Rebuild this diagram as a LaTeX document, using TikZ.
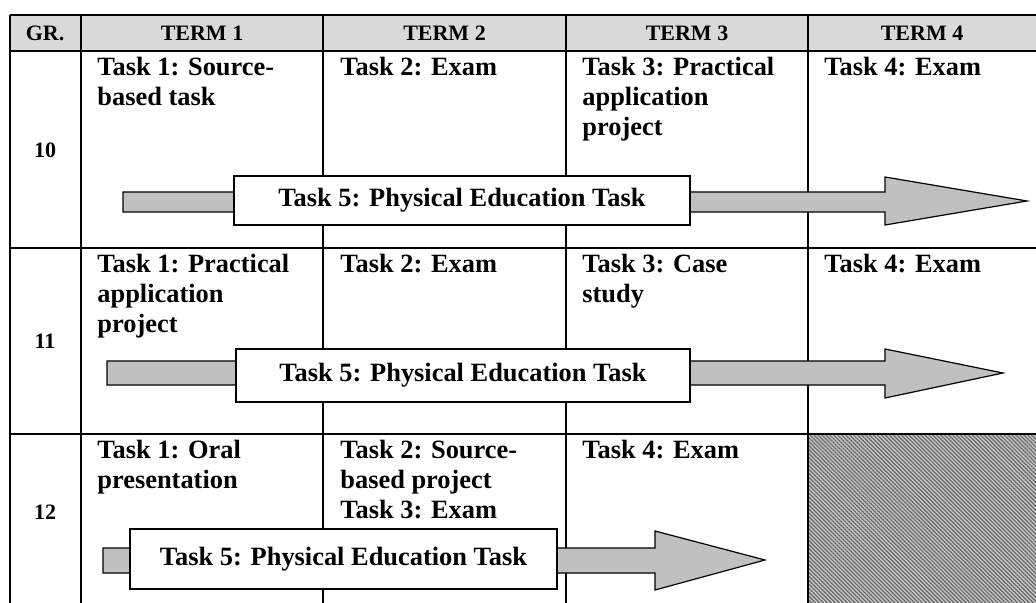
\documentclass[tikz,border=0pt]{standalone}
\usepackage{fontspec}
\setmainfont{Liberation Serif}
\usetikzlibrary{patterns.meta}
\definecolor{hdrgray}{HTML}{D9D9D9}
\definecolor{arrgray}{HTML}{C0C0C0}
\tikzset{
  grid/.style={line width=1pt, black},
  hdr/.style={font=\fontsize{11}{13}\selectfont\bfseries, inner sep=0pt, anchor=center},
  cell/.style={font=\fontsize{13.2}{15}\selectfont\bfseries, inner sep=0pt, anchor=north west, align=left},
  bigarrow/.style={draw=black, line width=0.6pt, fill=arrgray},
  taskbox/.style={draw=black, line width=0.6pt, fill=white, inner sep=0pt,
     font=\fontsize{13.2}{15}\selectfont\bfseries}
}
\begin{document}
\begin{tikzpicture}[x=0.5pt,y=-0.5pt]
\clip (0,0) rectangle (1036,603);
% header fill
\fill[hdrgray] (10,15) rectangle (1036,51);
% hatched cell
\fill[black!22] (808,434) rectangle (1036,603);
\fill[pattern={Lines[angle=-45,distance=1.4pt,line width=0.6pt]}, pattern color=black!60] (808,434) rectangle (1036,603);
% grid
\foreach \x in {10,81,323,566,808} \draw[grid] (\x,15) -- (\x,603);
\foreach \y in {15,51,248,434} \draw[grid] (10,\y) -- (1036,\y);
% header
\node[hdr] (hgr) at (45,33) {GR.};
\node[hdr] (h1) at (202,33) {TERM 1};
\node[hdr] (h2) at (444.5,33) {TERM 2};
\node[hdr] (h3) at (687,33) {TERM 3};
\node[hdr] (h4) at (922,33) {TERM 4};
% grade labels
\node[hdr] (g10) at (45,150) {10};
\node[hdr] (g11) at (45,341) {11};
\node[hdr] (g12) at (45,512) {12};
% row 10
\node[cell] (a1) at (97,57) {Task 1: Source-\\based task};
\node[cell] (a2) at (340,57) {Task 2: Exam};
\node[cell] (a3) at (582,57) {Task 3: Practical\\application\\project};
\node[cell] (a4) at (824,57) {Task 4: Exam};
% row 11
\node[cell] (b1) at (97,254) {Task 1: Practical\\application\\project};
\node[cell] (b2) at (340,254) {Task 2: Exam};
\node[cell] (b3) at (582,254) {Task 3: Case\\study};
\node[cell] (b4) at (824,254) {Task 4: Exam};
% row 12
\node[cell] (c1) at (97,440) {Task 1: Oral\\presentation};
\node[cell] (c2) at (340,440) {Task 2: Source-\\based project\\Task 3: Exam};
\node[cell] (c3) at (582,440) {Task 4: Exam};
% arrows
\draw[bigarrow] (123,192) -- (885,192) -- (885,177) -- (1027,201) -- (885,225) -- (885,212) -- (123,212) -- cycle;
\draw[bigarrow] (107,361) -- (885,361) -- (885,349) -- (1003,373) -- (885,398) -- (885,385) -- (107,385) -- cycle;
\draw[bigarrow] (103,548) -- (655,548) -- (655,531) -- (765,560) -- (655,590) -- (655,573) -- (103,573) -- cycle;
% task boxes
\node[taskbox, minimum width=228pt, minimum height=24.5pt] (p10) at (462,200.5) {Task 5: Physical Education Task};
\node[taskbox, minimum width=227pt, minimum height=26.5pt] (p11) at (463,375.5) {Task 5: Physical Education Task};
\node[taskbox, minimum width=213.5pt, minimum height=30pt] (p12) at (343.5,559) {Task 5: Physical Education Task};
\end{tikzpicture}
\end{document}
